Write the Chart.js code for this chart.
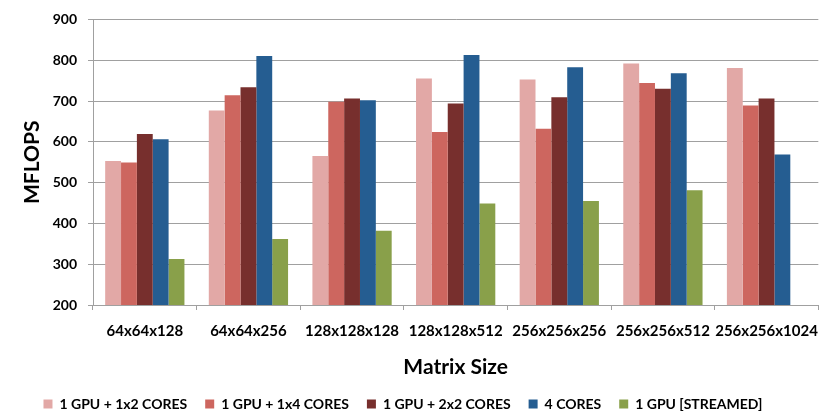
<!DOCTYPE html>
<html>
<head>
<meta charset="utf-8">
<script src="https://cdn.jsdelivr.net/npm/chart.js@4/dist/chart.umd.min.js"></script>
<style>
  html, body { margin: 0; padding: 0; background: #fff; }
  #wrap { width: 830px; height: 413px; }
</style>
</head>
<body>
<div id="wrap"><canvas id="c" width="830" height="413"></canvas></div>
<script>
// Matrix sizes on the category axis
const matrixSizes = ['64x64x128', '64x64x256', '128x128x128', '128x128x512', '256x256x256', '256x256x512', '256x256x1024'];

// MFLOPS per configuration
const gpu1x2Cores   = [553, 677, 565, 755, 753, 792, 781];
const gpu1x4Cores   = [549, 714, 698, 624, 632, 744, 689];
const gpu2x2Cores   = [619, 734, 706, 694, 709, 730, 706];
const fourCores     = [606, 810, 702, 813, 783, 768, 569];
const gpuStreamed   = [313, 362, 382, 449, 455, 481, null];

const seriesNames = ['1 GPU + 1x2 CORES', '1 GPU + 1x4 CORES', '1 GPU + 2x2 CORES', '4 CORES', '1 GPU [STREAMED]'];
const yTicks = [200, 300, 400, 500, 600, 700, 800, 900];

const colors = ['#E2A8A6', '#CD665F', '#772F2D', '#255D91', '#89A04A'];
const seriesValues = [gpu1x2Cores, gpu1x4Cores, gpu2x2Cores, fourCores, gpuStreamed];

const FONT = 'Lato, "Liberation Sans", sans-serif';

// Nudge the legend row down and slightly left after layout
const legendNudge = {
  id: 'legendNudge',
  afterLayout(chart) {
    const lg = chart.legend;
    if (!lg) return;
    lg.top += 8; lg.bottom += 8;
    lg.left -= 11; lg.right -= 11;
  }
};

new Chart(document.getElementById('c'), {
  type: 'bar',
  data: {
    labels: matrixSizes,
    datasets: seriesValues.map((vals, i) => ({
      label: seriesNames[i],
      data: vals,
      backgroundColor: colors[i],
      borderWidth: 0,
      categoryPercentage: 0.765,
      barPercentage: 1.0
    }))
  },
  plugins: [legendNudge],
  options: {
    responsive: false,
    animation: false,
    layout: { padding: { top: 15, left: 0, right: 2, bottom: 0 } },
    plugins: {
      tooltip: { enabled: false },
      legend: {
        position: 'bottom',
        labels: {
          boxWidth: 9,
          boxHeight: 9,
          padding: 18,
          color: '#000',
          font: { family: FONT, size: 14, weight: 'bold' }
        }
      }
    },
    scales: {
      x: {
        grid: {
          drawOnChartArea: false,
          drawTicks: true,
          tickLength: 5,
          color: '#a0a0a0',
          offset: true
        },
        border: { display: true, color: '#a0a0a0', width: 1 },
        ticks: {
          color: '#000',
          padding: 12,
          maxRotation: 0,
          autoSkip: false,
          font: { family: FONT, size: 15, weight: 'bold' }
        },
        title: {
          display: true,
          text: 'Matrix Size',
          color: '#000',
          padding: { top: 14, bottom: -9 },
          font: { family: FONT, size: 21, weight: 'bold' }
        },
        afterFit: (s) => { s.height = s.chart.height - 305 - s.chart.legend.height; }
      },
      y: {
        min: 200,
        max: 900,
        afterBuildTicks: (s) => { s.ticks = yTicks.map(v => ({ value: v })); },
        grid: {
          color: '#a0a0a0',
          lineWidth: 1,
          tickLength: 5
        },
        border: { display: true, color: '#a0a0a0', width: 1 },
        ticks: {
          color: '#000',
          padding: 11,
          font: { family: FONT, size: 14, weight: 'bold' }
        },
        title: {
          display: true,
          text: 'MFLOPS',
          color: '#000',
          padding: { top: 20, bottom: 0 },
          font: { family: FONT, size: 21, weight: 'bold' }
        },
        afterFit: (s) => { s.width = 93; }
      }
    }
  }
});
</script>
</body>
</html>
